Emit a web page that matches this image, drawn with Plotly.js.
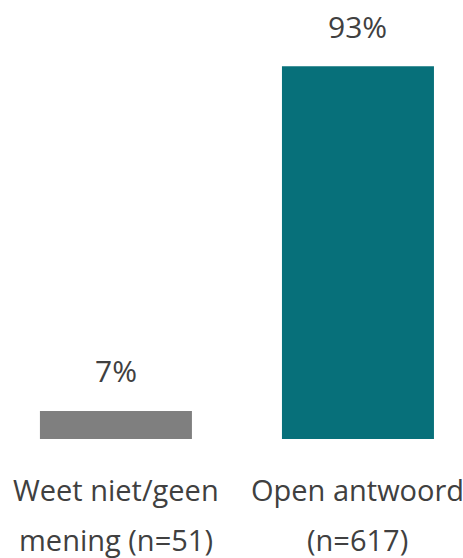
<!DOCTYPE html>
<html>
<head>
<meta charset="utf-8">
<script src="https://cdn.plot.ly/plotly-3.0.1.min.js"></script>
<style>html,body{margin:0;padding:0;background:#fff;}#chart{width:463px;height:558px;}</style>
</head>
<body>
<div id="chart"></div>
<script>
const categories = ["Weet niet/geen mening (n=51)", "Open antwoord (n=617)"];
const labelLine1 = ["Weet niet/geen", "Open antwoord"];
const labelLine2 = ["mening (n=51)", "(n=617)"];
const values = [7, 93];
const valueLabels = ["7%", "93%"];
const barColors = ["#7F7F7F", "#07707A"];

const textColor = "#404040";
const fontFamily = "'Open Sans', 'Noto Sans', sans-serif";

const annotations = [];
categories.forEach((c, i) => {
  annotations.push({x: c, y: values[i], xref: 'x', yref: 'y', text: valueLabels[i],
    showarrow: false, yanchor: 'middle', yshift: 40, font: {size: 30, color: textColor, family: fontFamily}});
  annotations.push({x: c, y: 0, xref: 'x', yref: 'paper', text: labelLine1[i],
    showarrow: false, yanchor: 'middle', yshift: -50, font: {size: 29, color: textColor, family: fontFamily}});
  annotations.push({x: c, y: 0, xref: 'x', yref: 'paper', text: labelLine2[i],
    showarrow: false, yanchor: 'middle', yshift: -100, font: {size: 29, color: textColor, family: fontFamily}});
});

Plotly.newPlot('chart', [{
  type: 'bar',
  x: categories,
  y: values,
  width: 0.628,
  marker: {color: barColors},
  hoverinfo: 'none'
}], {
  width: 463, height: 558,
  margin: {l: 0, r: 0, t: 0, b: 119},
  paper_bgcolor: '#fff', plot_bgcolor: '#fff',
  showlegend: false,
  xaxis: {type: 'category', range: [-0.479, 1.434], showticklabels: false, showgrid: false, zeroline: false, showline: false, ticks: ''},
  yaxis: {range: [0, 109.5], visible: false, showgrid: false, zeroline: false},
  annotations: annotations
}, {staticPlot: true, displayModeBar: false});
</script>
</body>
</html>
